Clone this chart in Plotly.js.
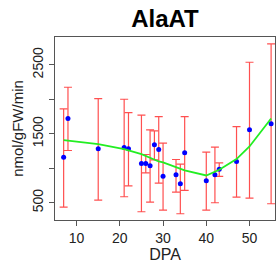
<!DOCTYPE html>
<html>
<head>
<meta charset="utf-8">
<script src="https://cdn.plot.ly/plotly-3.0.1.min.js"></script>
<style>html,body{margin:0;padding:0;background:#fff;}#chart{width:276px;height:268px;}</style>
</head>
<body>
<div id="chart"></div>
<script>
// Data
var dpa   = [7, 8, 15, 21, 22, 25, 26, 27, 28, 29, 30, 33, 34, 35, 40, 42, 43, 47, 50, 55];
var mean  = [1162, 1722, 1283, 1302, 1283, 1070, 1070, 1036, 1341, 1273, 886, 906, 775, 1225, 819, 906, 988, 1099, 1558, 1645];
var upper = [1862, 2176, 2012, 2002, 1809, 1771, 1200, 1558, 1543, 1751, 1365, 1128, 1060, 1751, 1234, 1307, 1080, 1606, 2539, 2804];
var lower = [437, 1258, 539, 587, 746, 370, 935, 510, 1123, 785, 394, 655, 341, 679, 394, 500, 882, 582, 568, 486];

var fitX = [7, 15, 21, 25, 29, 30, 35, 40, 43, 47, 50, 55];
var fitY = [1408, 1350, 1278, 1205, 1099, 1085, 969, 896, 978, 1133, 1316, 1722];

var yTickVals = [500, 1000, 1500, 2000, 2500];
var yTickText = ["500", "", "1500", "", "2500"];
var xTickVals = [10, 20, 30, 40, 50];

var errPlus = mean.map(function(m, i){ return upper[i] - m; });
var errMinus = mean.map(function(m, i){ return m - lower[i]; });

var font = "Liberation Sans, Arial, Helvetica, sans-serif";

var traces = [
  {
    x: dpa, y: mean, type: "scatter", mode: "markers",
    marker: {color: "#0000FF", size: 5, symbol: "circle"},
    error_y: {type: "data", symmetric: false, array: errPlus, arrayminus: errMinus,
              color: "#FF5050", thickness: 1.2, width: 4},
    hoverinfo: "skip", showlegend: false
  },
  {
    x: fitX, y: fitY, type: "scatter", mode: "lines",
    line: {color: "#22EE22", width: 1.8},
    hoverinfo: "skip", showlegend: false
  }
];

var axisCommon = {
  showline: true, mirror: true, linecolor: "#555", linewidth: 1,
  ticks: "outside", ticklen: 5, tickcolor: "#555", tickwidth: 1,
  showgrid: false, zeroline: false,
  tickfont: {family: font, size: 14, color: "#222"}
};

var layout = {
  width: 276, height: 268,
  margin: {l: 55, r: 1, t: 37, b: 48},
  paper_bgcolor: "#fff", plot_bgcolor: "#fff",
  title: {text: "<b>AlaAT</b>", font: {family: font, size: 24, color: "#000"},
          x: 0.5, xref: "paper", y: 0.93, yref: "container", yanchor: "middle"},
  xaxis: Object.assign({}, axisCommon, {
    range: [5.0, 55.9], tickvals: xTickVals,
    title: {text: "DPA", font: {family: font, size: 16, color: "#222"}, standoff: 3}
  }),
  yaxis: Object.assign({}, axisCommon, {
    range: [250, 2905], tickvals: yTickVals, ticktext: yTickText, tickangle: -90,
    title: {text: "nmol/gFW/min", font: {family: font, size: 15, color: "#222"}, standoff: 3}
  })
};

Plotly.newPlot("chart", traces, layout, {staticPlot: true, displayModeBar: false});
</script>
</body>
</html>
